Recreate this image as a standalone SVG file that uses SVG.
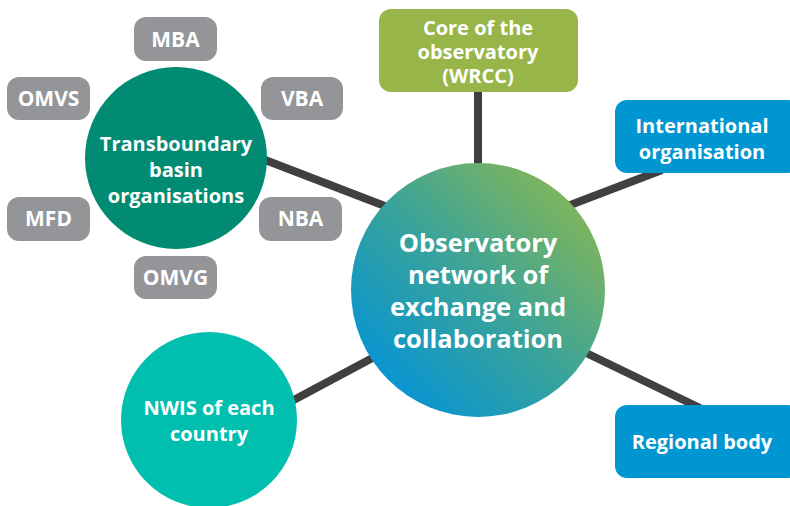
<svg xmlns="http://www.w3.org/2000/svg" width="790" height="506" viewBox="0 0 790 506">
<defs>
<linearGradient id="g" x1="0.15" y1="0.85" x2="0.85" y2="0.15">
<stop offset="0" stop-color="#0a95cf"/>
<stop offset="0.5" stop-color="#3aa39a"/>
<stop offset="1" stop-color="#7db45e"/>
</linearGradient>
<style>
.t{font-family:"Open Sans","Noto Sans","DejaVu Sans",sans-serif;font-weight:bold;fill:#fff;text-anchor:middle}
.gray{fill:#939598}
.s{font-size:20px}
.gs{font-size:21px}
.c{stroke:#404040;stroke-width:8;fill:none}
</style>
</defs>
<g id="connectors">
<line class="c" x1="478" y1="90" x2="478" y2="170"/>
<line class="c" x1="260" y1="158" x2="390" y2="208"/>
<line class="c" x1="565" y1="207" x2="662" y2="170"/>
<line class="c" x1="290" y1="402" x2="378" y2="355"/>
<line class="c" x1="580" y1="350" x2="700" y2="408"/>
</g>
<g id="n-mba"><rect class="gray" x="134" y="17" width="83" height="44" rx="12"/><text class="t gs" x="175.5" y="47">MBA</text></g>
<g id="n-omvs"><rect class="gray" x="7" y="77" width="83" height="43" rx="12"/><text class="t gs" x="48.5" y="106">OMVS</text></g>
<g id="n-vba"><rect class="gray" x="261" y="77" width="82" height="43" rx="12"/><text class="t gs" x="302" y="106">VBA</text></g>
<g id="n-mfd"><rect class="gray" x="7" y="197" width="83" height="44" rx="12"/><text class="t gs" x="48.5" y="226">MFD</text></g>
<g id="n-nba"><rect class="gray" x="259" y="197" width="83" height="44" rx="12"/><text class="t gs" x="300.5" y="226">NBA</text></g>
<g id="n-omvg"><rect class="gray" x="134" y="256" width="83" height="43" rx="12"/><text class="t gs" x="175.5" y="285">OMVG</text></g>
<g id="n-tbo"><circle cx="176" cy="158" r="91" fill="#008b72"/>
<text class="t s" x="176" y="151">Transboundary</text><text class="t s" x="176" y="177">basin</text><text class="t s" x="176" y="203">organisations</text></g>
<g id="n-core"><rect x="379" y="9" width="199" height="83" rx="12" fill="#97b548"/>
<text class="t s" x="478" y="35">Core of the</text><text class="t s" x="478" y="59">observatory</text><text class="t s" x="478" y="83">(WRCC)</text></g>
<g id="n-intl"><rect x="615" y="100" width="185" height="73" rx="12" fill="#0096d1"/>
<text class="t s" x="702" y="133">International</text><text class="t s" x="702" y="159">organisation</text></g>
<g id="n-center"><circle cx="478" cy="290" r="127" fill="url(#g)"/>
<text class="t" style="font-size:25.5px" x="478" y="252">Observatory</text>
<text class="t" style="font-size:25.5px" x="478" y="284">network of</text>
<text class="t" style="font-size:25.5px" x="478" y="316">exchange and</text>
<text class="t" style="font-size:25.5px" x="478" y="348">collaboration</text></g>
<g id="n-nwis"><circle cx="209" cy="420" r="88" fill="#00bfae"/>
<text class="t s" x="209" y="415">NWIS of each</text><text class="t s" x="209" y="441">country</text></g>
<g id="n-regional"><rect x="615" y="405" width="185" height="73" rx="12" fill="#0096d1"/>
<text class="t s" x="702" y="449">Regional body</text></g>
</svg>
